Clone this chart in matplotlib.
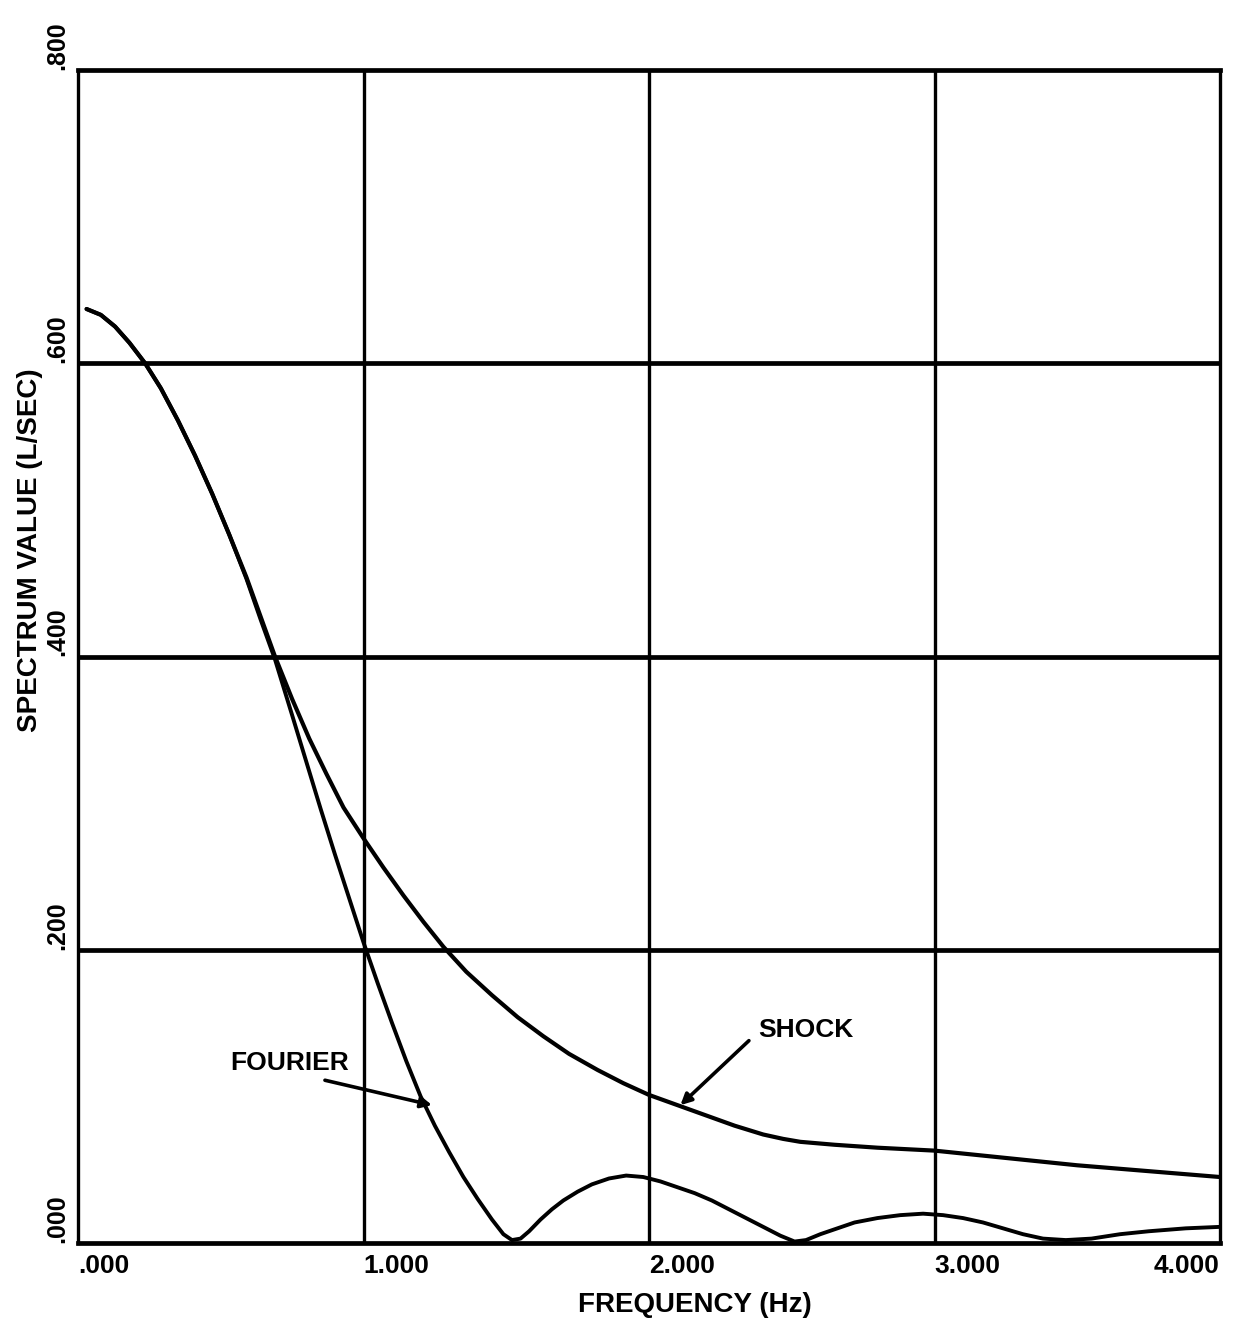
import matplotlib
matplotlib.use("Agg")
import matplotlib.pyplot as plt

# Frequency (Hz) and spectrum values (L/SEC)
shock_freq = [0.03, 0.08, 0.13, 0.18, 0.235, 0.29, 0.35, 0.41, 0.47, 0.53, 0.59,
              0.64, 0.69, 0.75, 0.81, 0.87, 0.93, 1.00, 1.07, 1.14, 1.21, 1.28,
              1.36, 1.45, 1.54, 1.63, 1.72, 1.82, 1.91, 2.00, 2.10, 2.20, 2.30,
              2.40, 2.47, 2.53, 2.65, 2.80, 3.00, 3.25, 3.50, 3.75, 4.00]
shock_val = [0.637, 0.633, 0.625, 0.614, 0.600, 0.583, 0.561, 0.537, 0.511, 0.483, 0.454,
             0.427, 0.400, 0.371, 0.344, 0.320, 0.297, 0.276, 0.256, 0.237, 0.219, 0.202,
             0.185, 0.169, 0.154, 0.141, 0.129, 0.118, 0.109, 0.101, 0.094, 0.087, 0.080,
             0.074, 0.071, 0.069, 0.067, 0.065, 0.063, 0.058, 0.053, 0.049, 0.045]

fourier_freq = [0.03, 0.08, 0.13, 0.18, 0.235, 0.29, 0.35, 0.41, 0.47, 0.53, 0.59,
                0.64, 0.69, 0.75, 0.80, 0.85, 0.90, 0.95, 1.00, 1.05, 1.10, 1.15,
                1.20, 1.25, 1.30, 1.35, 1.40, 1.45, 1.49, 1.52, 1.55, 1.58, 1.62,
                1.66, 1.70, 1.75, 1.80, 1.86, 1.92, 1.98, 2.04, 2.10, 2.16, 2.22,
                2.28, 2.34, 2.40, 2.46, 2.51, 2.55, 2.60, 2.66, 2.72, 2.80, 2.88,
                2.96, 3.03, 3.10, 3.17, 3.24, 3.31, 3.38, 3.46, 3.55, 3.65, 3.75,
                3.88, 4.00]
fourier_val = [0.637, 0.633, 0.625, 0.614, 0.600, 0.583, 0.561, 0.537, 0.511, 0.483, 0.453,
               0.425, 0.398, 0.360, 0.328, 0.296, 0.265, 0.235, 0.205, 0.177, 0.150, 0.124,
               0.100, 0.080, 0.062, 0.045, 0.030, 0.016, 0.006, 0.002, 0.003, 0.008, 0.016,
               0.023, 0.029, 0.035, 0.040, 0.044, 0.046, 0.045, 0.042, 0.038, 0.034, 0.029,
               0.023, 0.017, 0.011, 0.005, 0.001, 0.002, 0.006, 0.010, 0.014, 0.017, 0.019,
               0.020, 0.019, 0.017, 0.014, 0.010, 0.006, 0.003, 0.002, 0.003, 0.006, 0.008,
               0.010, 0.011]

x_ticks = [0, 1, 2, 3, 4]
x_tick_labels = [".000", "1.000", "2.000", "3.000", "4.000"]
y_ticks = [0.0, 0.2, 0.4, 0.6, 0.8]
y_tick_labels = [".000", ".200", ".400", ".600", ".800"]

BOLD = dict(family="Liberation Sans", weight="bold")

fig = plt.figure(figsize=(12.55, 13.25), dpi=100)
ax = fig.add_axes([78 / 1255, 82 / 1325, (1220 - 78) / 1255, (1243 - 70) / 1325])
ax.set_xlim(0, 4)
ax.set_ylim(0, 0.8)

# grid: heavier horizontal rules, lighter vertical rules
for y in y_ticks[1:-1]:
    ax.axhline(y, color="black", lw=3.4, zorder=1)
for x in x_ticks[1:-1]:
    ax.axvline(x, color="black", lw=2.4, zorder=1)

for side in ["top", "bottom"]:
    ax.spines[side].set_linewidth(3.4)
for side in ["left", "right"]:
    ax.spines[side].set_linewidth(2.4)

ax.plot(shock_freq, shock_val, color="black", lw=3.0, solid_joinstyle="round",
        solid_capstyle="round", zorder=3)
ax.plot(fourier_freq, fourier_val, color="black", lw=2.8, solid_joinstyle="round",
        solid_capstyle="round", zorder=3)

ax.set_xticks(x_ticks)
ax.set_xticklabels(x_tick_labels, fontsize=19, **BOLD)
ax.set_yticks(y_ticks)
ax.set_yticklabels(y_tick_labels, fontsize=18, rotation=90, **BOLD)
ax.tick_params(axis="both", length=0)
ax.tick_params(axis="x", pad=8)
ax.tick_params(axis="y", pad=6)
for i, lab in enumerate(ax.get_xticklabels()):
    lab.set_ha("right" if i == len(x_ticks) - 1 else "left")
for lab in ax.get_yticklabels():
    lab.set_va("bottom")
    lab.set_ha("right")

# curve labels with arrows
ax.text(0.74, 0.123, "FOURIER", fontsize=19, ha="center", va="center", **BOLD)
ax.annotate("", xy=(1.24, 0.094), xytext=(0.865, 0.111),
            arrowprops=dict(arrowstyle="-|>", lw=2.6, color="black", mutation_scale=16,
                            shrinkA=0, shrinkB=0))
ax.text(2.55, 0.145, "SHOCK", fontsize=19, ha="center", va="center", **BOLD)
ax.annotate("", xy=(2.11, 0.094), xytext=(2.35, 0.138),
            arrowprops=dict(arrowstyle="-|>", lw=2.6, color="black", mutation_scale=16,
                            shrinkA=0, shrinkB=0))

fig.text(695 / 1255, 1 - 1305 / 1325, "FREQUENCY (Hz)", fontsize=20,
         ha="center", va="center", **BOLD)
fig.text(30 / 1255, 1 - 550 / 1325, "SPECTRUM VALUE (L/SEC)", fontsize=20,
         rotation=90, ha="center", va="center", **BOLD)

fig.savefig("out.png", dpi=100, facecolor="white")
